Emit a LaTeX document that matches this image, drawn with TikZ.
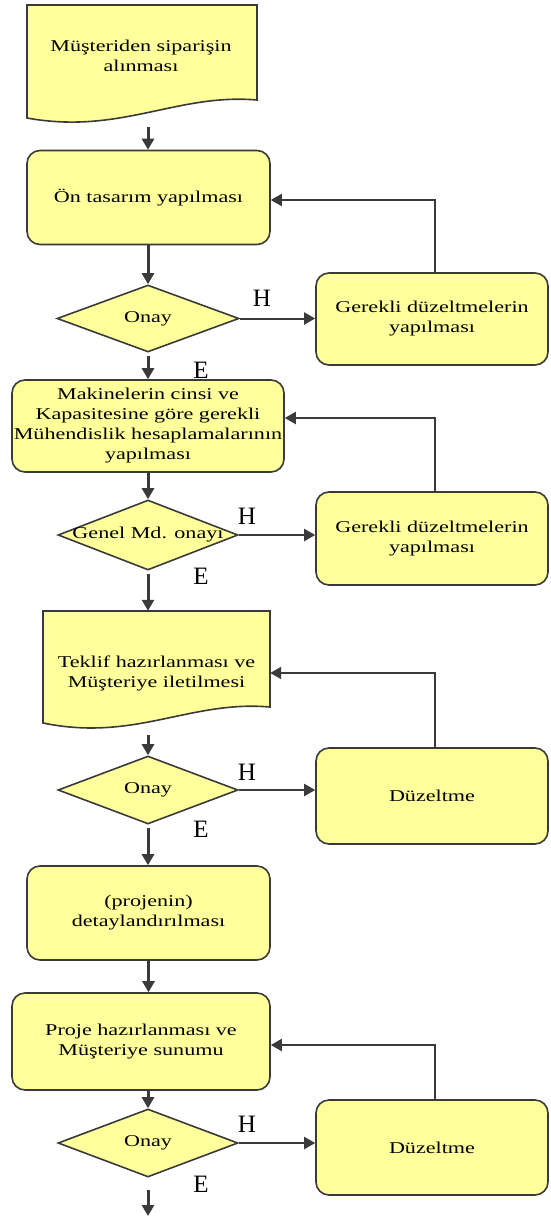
\documentclass[tikz,border=0pt]{standalone}
\usepackage{fontspec}
\setmainfont[FakeStretch=1.34]{Liberation Serif}
\newfontfamily\lblfont{Liberation Serif}
\usetikzlibrary{shapes.geometric,arrows.meta}
\definecolor{boxfill}{HTML}{FFFF9C}
\definecolor{edge}{HTML}{3A3A3A}

\begin{document}
\begin{tikzpicture}[x=1pt,y=-1pt,
  txt/.style={font=\fontsize{16.5}{20}\selectfont, align=center, text=black},
  procbox/.style={txt, draw=edge, line width=1.6pt, fill=boxfill,
                  rounded corners=13pt, inner sep=0pt},
  docarea/.style={txt, inner sep=0pt},
  docline/.style={draw=edge, line width=1.6pt, fill=boxfill},
  decide/.style={diamond, draw=edge, line width=1.6pt, fill=boxfill,
                 inner sep=0pt, label={[txt]center:#1}},
  flow/.style={draw=edge, line width=3pt,
               -{Triangle[length=11pt 0 0, width=12pt 0 0]}},
  back/.style={draw=edge, line width=2pt,
               -{Triangle[length=11pt 0 0, width=12pt 0 0]}},
  yn/.style={font=\lblfont\fontsize{25}{25}\selectfont, text=black, inner sep=0pt}]

\useasboundingbox (0,0) rectangle (550,1218);

% ---- first order document ----
\path[docline] (27,5) -- (257,5) -- (257,100)
  .. controls (177,93) and (120,135) .. (27,118) -- cycle;
\node[docarea, minimum width=230pt, minimum height=102pt] (A) at (141,56)
  {Müşteriden siparişin\\alınması};
\coordinate (Aout) at (148,127);

% ---- preliminary design ----
\node[procbox, minimum width=243pt, minimum height=94pt] (B) at (148.5,197.5)
  {Ön tasarım yapılması};
\node[decide=Onay, minimum width=182pt, minimum height=67pt] (D1) at (148,318.5) {};
\node[procbox, minimum width=232pt, minimum height=92pt] (G1) at (432,319)
  {Gerekli düzeltmelerin\\yapılması};
\node[yn] (H1) at (262,298) {H};
\node[yn] (E1) at (201,370) {E};

% ---- engineering calculations ----
\node[procbox, minimum width=272pt, minimum height=92pt] (C) at (148,426)
  {Makinelerin cinsi ve\\Kapasitesine göre gerekli\\Mühendislik hesaplamalarının\\yapılması};
\node[decide={Genel Md. onayı}, minimum width=180pt, minimum height=70pt] (D2) at (148,535) {};
\node[procbox, minimum width=232pt, minimum height=93pt] (G2) at (432,538.5)
  {Gerekli düzeltmelerin\\yapılması};
\node[yn] (H2) at (247,516) {H};
\node[yn] (E2) at (201,576) {E};

% ---- offer document ----
\path[docline] (43,611) -- (270,611) -- (270,707)
  .. controls (190,700) and (135,742) .. (43,723) -- cycle;
\node[docarea, minimum width=227pt, minimum height=124pt] (T) at (156.5,673)
  {Teklif hazırlanması ve\\Müşteriye iletilmesi};
\node[decide=Onay, minimum width=180pt, minimum height=68pt] (D3) at (148,790) {};
\node[procbox, minimum width=232pt, minimum height=96pt] (Z1) at (432,796)
  {Düzeltme};
\node[yn] (H3) at (247,772) {H};
\node[yn] (E3) at (201,829) {E};

% ---- detailing and presentation ----
\node[procbox, minimum width=243pt, minimum height=94pt] (P) at (148.5,913)
  {(projenin)\\detaylandırılması};
\node[procbox, minimum width=258pt, minimum height=97pt] (Q) at (141,1041.5)
  {Proje hazırlanması ve\\Müşteriye sunumu};
\node[decide=Onay, minimum width=180pt, minimum height=68pt] (D4) at (148,1143) {};
\node[procbox, minimum width=232pt, minimum height=95pt] (Z2) at (432,1147.5)
  {Düzeltme};
\node[yn] (H4) at (247,1124) {H};
\node[yn] (E4) at (201,1184) {E};
\coordinate (End) at (148,1216);

% ---- main flow ----
\draw[flow] (Aout) -- (Aout |- B.north);
\draw[flow] (B.south -| D1.north) -- (D1.north);
\draw[flow] ([yshift=-3pt]D1.south) -- (D1.south |- C.north);
\draw[flow] (C.south) -- (D2.north);
\draw[flow] ([yshift=-3pt]D2.south) -- (D2.south |- T.north);
\draw[flow] (T.south -| D3.north) -- (D3.north);
\draw[flow] ([yshift=-3pt]D3.south) -- (D3.south |- P.north);
\draw[flow] (P.south) -- (P.south |- Q.north);
\draw[flow] (Q.south -| D4.north) -- (D4.north);
\draw[flow] ([yshift=-12pt]D4.south) -- (End);

% ---- rejection branches ----
\draw[back] (D1.east) -- (D1.east -| G1.west);
\draw[back] (D2.east) -- (D2.east -| G2.west);
\draw[back] (D3.east) -- (D3.east -| Z1.west);
\draw[back] (D4.east) -- (D4.east -| Z2.west);

% ---- return paths ----
\draw[back] ([xshift=3pt]G1.north) |- ([yshift=-2.5pt]B.east);
\draw[back] ([xshift=3pt]G2.north) |- ([yshift=8pt]C.east);
\draw[back] ([xshift=3pt]Z1.north) |- (T.east);
\draw[back] ([xshift=3pt]Z2.north) |- ([yshift=-3.5pt]Q.east);
\end{tikzpicture}
\end{document}
